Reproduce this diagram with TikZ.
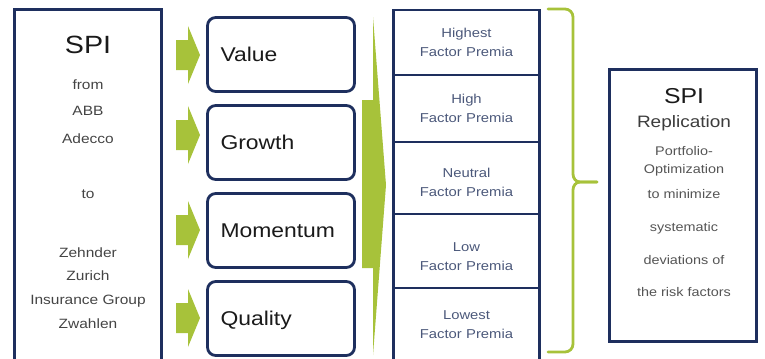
\documentclass[tikz,border=0pt]{standalone}
\usepackage{fontspec}
\setmainfont[FakeStretch=1.15]{Liberation Sans}
\usetikzlibrary{positioning}
\definecolor{navy}{HTML}{1E2F5E}
\definecolor{lime}{HTML}{A7C23A}
\definecolor{ink}{HTML}{1A1A1A}
\definecolor{grey}{HTML}{444444}
\definecolor{softgrey}{HTML}{555555}
\definecolor{slate}{HTML}{4B587A}
\tikzset{
  frame/.style={draw=navy, line width=2.4pt, outer sep=0pt, inner sep=0pt},
  factor/.style={frame, rounded corners=7pt, minimum width=44.1mm, minimum height=22.2mm,
    text width=36.3mm, inner xsep=3.9mm, align=left, text=ink,
    font=\fontsize{17}{20}\selectfont, text height=12pt, text depth=0pt},
  premia/.style={frame, minimum width=43.8mm, text width=40mm, align=center,
    text=slate, font=\fontsize{11}{16.2}\selectfont},
  arrowfill/.style={fill=lime},
  bracket/.style={draw=lime, line width=2.4pt, line cap=round},
  bigtitle/.style={anchor=base, text=ink, font=\fontsize{21.3}{24}\selectfont},
  lefttxt/.style={anchor=base, text=grey, font=\fontsize{11.5}{14}\selectfont},
  righttxt/.style={anchor=base, text=softgrey, font=\fontsize{10.7}{13}\selectfont}
}

\begin{document}
\begin{tikzpicture}[x=0.3mm, y=-0.3mm]
  \useasboundingbox (0,0) rectangle (765,359);
  \clip (0,0) rectangle (765,359);

  % left column
  \node[frame, anchor=north west, minimum width=44.1mm, minimum height=110mm] (spi) at (14.5,9.5) {};
  \node[bigtitle] (spititle) at (88,53) {SPI};
  \node[lefttxt] (from) at (88,89) {from};
  \node[lefttxt] (abb) at (88,115) {ABB};
  \node[lefttxt] (adecco) at (88,143) {Adecco};
  \node[lefttxt] (upto) at (88,198) {to};
  \node[lefttxt] (zehnder) at (88,257) {Zehnder};
  \node[lefttxt] (zurich) at (88,280) {Zurich};
  \node[lefttxt] (insurance) at (88,304) {Insurance Group};
  \node[lefttxt] (zwahlen) at (88,328) {Zwahlen};

  \foreach \y in {55,135,230,318}
    \fill[arrowfill] (176,\y-15) -- (188,\y-15) -- (188,\y-29) -- (200,\y)
      -- (188,\y+29) -- (188,\y+15) -- (176,\y+15) -- cycle;

  % factors
  \node[factor, anchor=north west] (value) at (207.5,17.5) {Value};
  \node[factor, below=4.2mm of value] (growth) {Growth};
  \node[factor, below=4.2mm of growth] (momentum) {Momentum};
  \node[factor, below=4.2mm of momentum] (quality) {Quality};

  \fill[arrowfill] (362,100) -- (373,100) -- (373,17) -- (386,185) -- (373,355)
    -- (373,268) -- (362,268) -- cycle;

  % premia table
  \node[premia, anchor=north west, minimum height=19.5mm] (highest) at (393.5,10) {Highest\\Factor Premia};
  \node[premia, below=0pt of highest, minimum height=20.1mm] (high) {High\\Factor Premia};
  \node[premia, below=0pt of high, minimum height=21.6mm] (neutral) {\rule{0pt}{16pt}Neutral\\Factor Premia};
  \node[premia, below=0pt of neutral, minimum height=22.2mm] (low) {\rule{0pt}{16.5pt}Low\\Factor Premia};
  \node[premia, below=0pt of low, minimum height=22.2mm] (lowest) {Lowest\\Factor Premia};

  \draw[bracket] (548,9) -- (565,9) to[out=0,in=90] (573,17) -- (573,174)
    to[out=-90,in=180] (580,182) -- (597,182);
  \draw[bracket] (597,182) -- (580,182) to[out=180,in=90] (573,190) -- (573,344)
    to[out=-90,in=0] (565,352) -- (548,352);

  % replication
  \node[frame, anchor=north west, minimum width=44.1mm, minimum height=81.6mm] (repl) at (609.5,69.5) {};
  \node[bigtitle, font=\fontsize{18.4}{22}\selectfont] (repltitle) at (684,103) {SPI};
  \node[anchor=base, text=ink!85, font=\fontsize{14.1}{17}\selectfont] (replication) at (684,127) {Replication};
  \node[righttxt] (portfolio) at (684,155) {Portfolio-};
  \node[righttxt] (optim) at (684,173) {Optimization};
  \node[righttxt] (minimize) at (684,198) {to minimize};
  \node[righttxt] (systematic) at (684,231) {systematic};
  \node[righttxt] (deviations) at (684,264) {deviations of};
  \node[righttxt] (riskfactors) at (684,296) {the risk factors};
\end{tikzpicture}
\end{document}
